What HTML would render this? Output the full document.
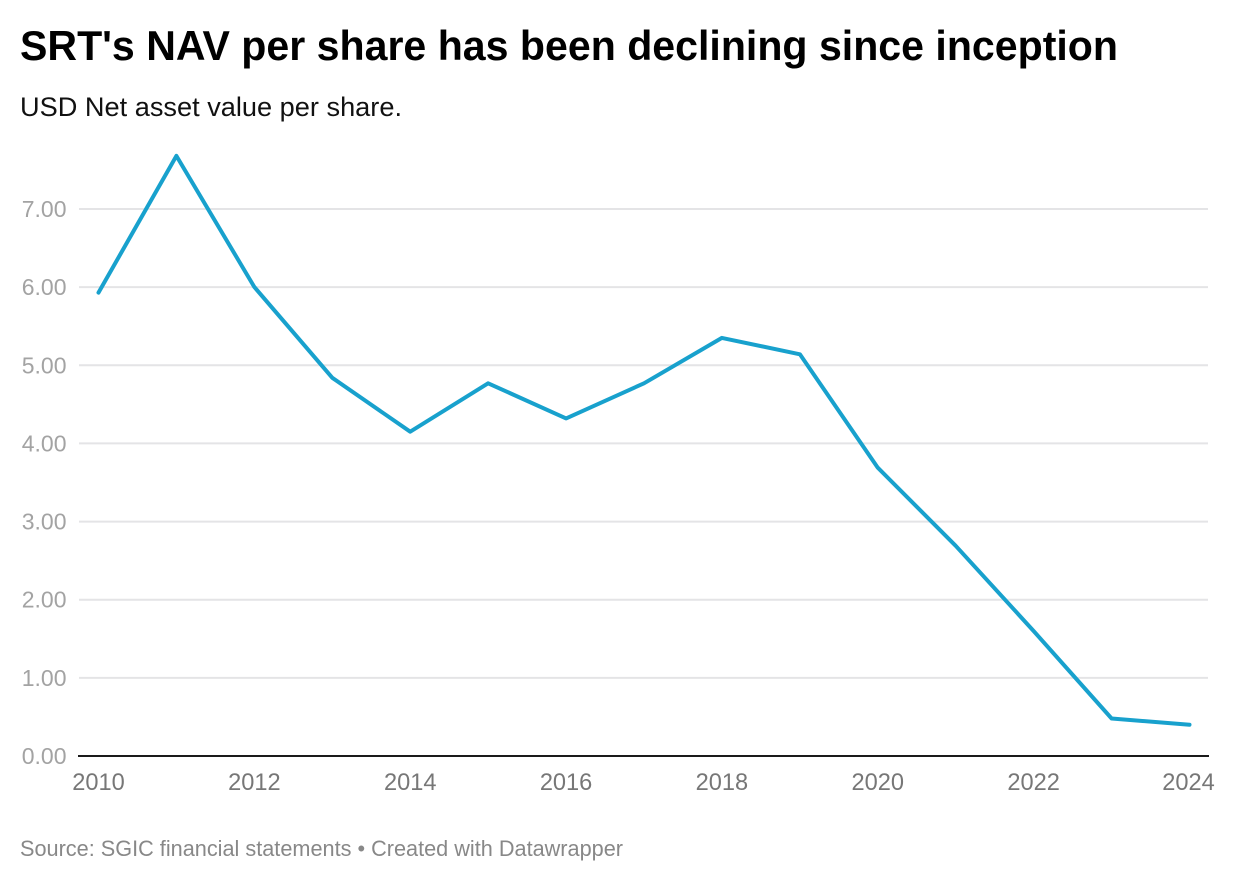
<!DOCTYPE html>
<html>
<head>
<meta charset="utf-8">
<style>
html,body{margin:0;padding:0;background:#fff;width:1240px;height:882px;overflow:hidden}
svg{display:block;font-family:"Liberation Sans",sans-serif}
</style>
</head>
<body>
<svg id="chart" width="1240" height="882" viewBox="0 0 1240 882" xmlns="http://www.w3.org/2000/svg">
<text x="20" y="60" font-size="42" font-weight="700" fill="#000" textLength="1098" lengthAdjust="spacingAndGlyphs">SRT's NAV per share has been declining since inception</text>
<text x="20" y="116" font-size="27" fill="#111" textLength="382" lengthAdjust="spacingAndGlyphs">USD Net asset value per share.</text>
<g id="grid"></g>
<g id="marks"></g>
<text x="20" y="856" font-size="22" fill="#888" textLength="603" lengthAdjust="spacingAndGlyphs">Source: SGIC financial statements • Created with Datawrapper</text>
</svg>
<script>
const years = [2010,2011,2012,2013,2014,2015,2016,2017,2018,2019,2020,2021,2022,2023,2024];
const navValues = [5.93,7.68,6.0,4.84,4.15,4.77,4.32,4.77,5.35,5.14,3.69,2.69,1.6,0.48,0.4];
const yTicks = [0,1,2,3,4,5,6,7];
const yTickLabels = ["0.00","1.00","2.00","3.00","4.00","5.00","6.00","7.00"];
const xTickYears = [2010,2012,2014,2016,2018,2020,2022,2024];

const NS = "http://www.w3.org/2000/svg";
const grid = document.getElementById("grid");
const marks = document.getElementById("marks");
const xScale = y => 98.5 + (y - 2010) * (1189.5 - 98.5) / 14;
const yScale = v => 756 - v * (756 - 209) / 7;

yTicks.forEach((t, i) => {
  const line = document.createElementNS(NS, "line");
  
  
  line.setAttribute("x1", t === 0 ? 78 : 79);
  line.setAttribute("x2", t === 0 ? 1209 : 1208);
  line.setAttribute("y1", yScale(t));
  line.setAttribute("y2", yScale(t));
  line.setAttribute("stroke", t === 0 ? "#1a1a1a" : "#e4e4e6");
  line.setAttribute("stroke-width", 2);
  grid.appendChild(line);
  const label = document.createElementNS(NS, "text");
  
  
  label.setAttribute("x", 66.5);
  label.setAttribute("y", yScale(t) + 8);
  label.setAttribute("font-size", 23);
  label.setAttribute("fill", "#a3a3a3");
  label.setAttribute("text-anchor", "end");
  label.textContent = yTickLabels[i];
  grid.appendChild(label);
});

xTickYears.forEach(y => {
  const label = document.createElementNS(NS, "text");
  
  
  label.setAttribute("x", y === 2024 ? xScale(y) - 1 : xScale(y));
  label.setAttribute("y", 790);
  label.setAttribute("font-size", 23.6);
  label.setAttribute("fill", "#777");
  label.setAttribute("text-anchor", "middle");
  label.textContent = y;
  grid.appendChild(label);
});

const path = document.createElementNS(NS, "path");


path.setAttribute("d", years.map((y, i) => (i ? "L" : "M") + xScale(y).toFixed(1) + " " + yScale(navValues[i]).toFixed(1)).join(" "));
path.setAttribute("fill", "none");
path.setAttribute("stroke", "#18a1cd");
path.setAttribute("stroke-width", 4);
path.setAttribute("stroke-linejoin", "round");
path.setAttribute("stroke-linecap", "round");
marks.appendChild(path);
</script>
</body>
</html>
